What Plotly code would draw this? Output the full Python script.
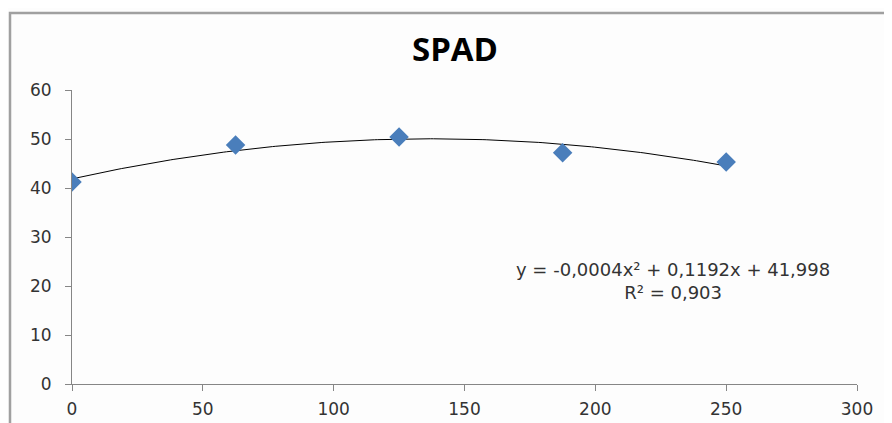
import numpy as np
import plotly.graph_objects as go

# Data
doses = [0, 62.5, 125, 187.5, 250]
spad = [41.2, 48.8, 50.4, 47.2, 45.3]
x_ticks = [0, 50, 100, 150, 200, 250, 300]
y_ticks = [0, 10, 20, 30, 40, 50, 60]
equation_text = "y = -0,0004x² + 0,1192x + 41,998<br>R² = 0,903"

# Polynomial trendline (order 2) fitted to the data
coef = np.polyfit(doses, spad, 2)
xs = np.linspace(min(doses), max(doses), 200)
ys = np.polyval(coef, xs)

fig = go.Figure()
fig.add_trace(go.Scatter(x=xs, y=ys, mode="lines",
                         line=dict(color="black", width=1), hoverinfo="skip"))
fig.add_trace(go.Scatter(x=doses, y=spad, mode="markers",
                         marker=dict(symbol="diamond", size=15, color="#4A7EBB",
                                     line=dict(width=0))))

axis_font = dict(family="DejaVu Sans", size=17, color="#333333")
fig.update_layout(
    width=892, height=423,
    margin=dict(l=64, r=43, t=82, b=47),
    paper_bgcolor="#fdfdfd", plot_bgcolor="#fdfdfd",
    showlegend=False,
    title=dict(text="<b>SPAD</b>", x=447 / 892, xanchor="center",
               y=1 - 41 / 423, yanchor="middle",
               font=dict(family="Open Sans", size=33, color="#000000")),
    xaxis=dict(range=[0, 300], tickvals=x_ticks, showgrid=False, zeroline=False,
               showline=True, linecolor="#868686", linewidth=1,
               ticks="outside", ticklen=6, tickcolor="#868686",
               ticklabelstandoff=4, tickfont=axis_font),
    yaxis=dict(range=[0, 60], tickvals=y_ticks, showgrid=False, zeroline=False,
               showline=True, linecolor="#868686", linewidth=1,
               ticks="outside", ticklen=6, tickcolor="#868686",
               ticklabelstandoff=10, tickfont=axis_font),
    shapes=[dict(type="rect", xref="paper", yref="paper",
                 x0=(10 - 72) / 785, x1=1.1, y0=-0.3, y1=(384 - 13) / 294,
                 line=dict(color="#a0a0a0", width=2.5))],
    annotations=[dict(x=229.5, y=21.0, xref="x", yref="y", text=equation_text,
                      showarrow=False, xanchor="center", yanchor="middle",
                      font=dict(family="DejaVu Sans", size=18, color="#333333"))],
)

fig.write_html("out.html")
